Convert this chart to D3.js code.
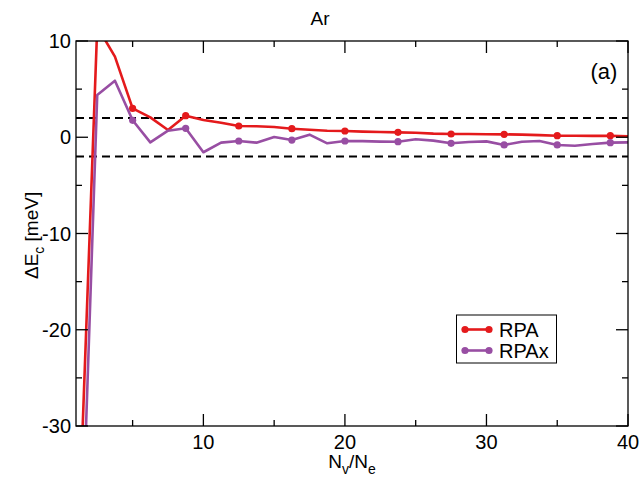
<!DOCTYPE html>
<html>
<head>
<meta charset="utf-8">
<script src="https://cdn.jsdelivr.net/npm/d3@7"></script>
<style>
  body { margin: 0; background: #fff; }
  text { font-family: "Liberation Sans", Arial, sans-serif; fill: #000; }
</style>
</head>
<body>
<script>
const WIDTH = 640, HEIGHT = 481;
const margin = {top: 41, right: 12, bottom: 55, left: 76};

// N_v/N_e grid used for both curves
const ratios = [1.25, 2.5, 3.75, 5, 6.25, 7.5, 8.75, 10, 11.25, 12.5, 13.75, 15, 16.25, 17.5,
    18.75, 20, 21.25, 22.5, 23.75, 25, 26.25, 27.5, 28.75, 30, 31.25, 32.5, 33.75, 35,
    36.25, 37.5, 38.75, 40];
const rpaValues = [-39, 11.5, 8.37, 3.0, 2.07, 0.75, 2.24, 1.79, 1.51, 1.17, 1.14, 1.06, 0.89,
    0.78, 0.68, 0.65, 0.58, 0.55, 0.51, 0.47, 0.38, 0.34, 0.33, 0.31, 0.30, 0.27, 0.22, 0.16,
    0.15, 0.14, 0.16, 0.10];
const rpaxValues = [-50, 4.4, 5.87, 1.76, -0.53, 0.68, 0.93, -1.56, -0.56, -0.39, -0.56, 0.03,
    -0.29, 0.27, -0.63, -0.39, -0.4, -0.45, -0.46, -0.2, -0.35, -0.63, -0.49, -0.43, -0.8,
    -0.46, -0.39, -0.8, -0.88, -0.7, -0.56, -0.53];
// points that carry a symbol
const markerRatios = [5, 8.75, 12.5, 16.25, 20, 23.75, 27.5, 31.25, 35, 38.75];
const thresholds = [2, -2];

const seriesNames = ["RPA", "RPAx"];
const seriesColors = ["#e41a1c", "#984ea3"];
const xTicks = [10, 20, 30, 40];
const xMinor = [5, 15, 25, 35];
const yTicks = [10, 0, -10, -20, -30];
const yMinor = [5, -5, -15, -25];

const plotW = WIDTH - margin.left - margin.right;
const plotH = HEIGHT - margin.top - margin.bottom;

const svg = d3.select("body").append("svg")
    .attr("width", WIDTH).attr("height", HEIGHT);

const x = d3.scaleLinear().domain([1, 40]).range([margin.left, margin.left + plotW]);
const y = d3.scaleLinear().domain([-30, 10]).range([margin.top + plotH, margin.top]);

svg.append("clipPath").attr("id", "plotclip")
    .append("rect")
    .attr("x", margin.left).attr("y", margin.top)
    .attr("width", plotW).attr("height", plotH);

// Dashed threshold lines
svg.selectAll("line.thr")
    .data(thresholds)
    .enter()
    .append("line")
    .attr("class", "thr")
    .attr("x1", x(1)).attr("x2", x(40))
    .attr("y1", d => y(d)).attr("y2", d => y(d))
    .attr("stroke", "#000").attr("stroke-width", 2)
    .attr("stroke-dasharray", "8,5");

// Curves
const series = [rpaValues, rpaxValues];
const lineGen = d3.line().x((d, i) => x(ratios[i])).y(d => y(d));
const plot = svg.append("g").attr("clip-path", "url(#plotclip)");

series.forEach((vals, s) => {
    plot.append("path")
        .datum(vals)
        .attr("d", lineGen)
        .attr("fill", "none")
        .attr("stroke", seriesColors[s])
        .attr("stroke-width", 2.6)
        .attr("stroke-linejoin", "round");
    plot.selectAll("circle.s" + s)
        .data(markerRatios)
        .enter()
        .append("circle")
        .attr("cx", d => x(d))
        .attr("cy", d => y(vals[ratios.indexOf(d)]))
        .attr("r", 3.6)
        .attr("fill", seriesColors[s]);
});

// Frame and ticks on all four sides
svg.append("rect")
    .attr("x", margin.left).attr("y", margin.top)
    .attr("width", plotW).attr("height", plotH)
    .attr("fill", "none").attr("stroke", "#000").attr("stroke-width", 1.3);

const tickG = svg.append("g").attr("stroke", "#000").attr("stroke-width", 1.3);
function xTickMarks(vals, len) {
    vals.forEach(v => {
        tickG.append("line").attr("x1", x(v)).attr("x2", x(v))
            .attr("y1", y(-30)).attr("y2", y(-30) - len);
        tickG.append("line").attr("x1", x(v)).attr("x2", x(v))
            .attr("y1", y(10)).attr("y2", y(10) + len);
    });
}
function yTickMarks(vals, len) {
    vals.forEach(v => {
        tickG.append("line").attr("x1", x(1)).attr("x2", x(1) + len)
            .attr("y1", y(v)).attr("y2", y(v));
        tickG.append("line").attr("x1", x(40)).attr("x2", x(40) - len)
            .attr("y1", y(v)).attr("y2", y(v));
    });
}
xTickMarks(xTicks, 12);
xTickMarks(xMinor, 6);
yTickMarks(yTicks, 12);
yTickMarks(yMinor, 6);

// Tick labels
svg.selectAll("text.xt")
    .data(xTicks)
    .enter()
    .append("text")
    .attr("x", d => x(d)).attr("y", y(-30) + 23)
    .attr("text-anchor", "middle")
    .attr("font-size", "20px")
    .text(d => d);

svg.selectAll("text.yt")
    .data(yTicks)
    .enter()
    .append("text")
    .attr("x", margin.left - 5).attr("y", d => y(d) + 7)
    .attr("text-anchor", "end")
    .attr("font-size", "20px")
    .text(d => d);

// Axis titles
const xl = svg.append("text")
    .attr("x", x(20.5)).attr("y", 468)
    .attr("text-anchor", "middle")
    .attr("font-size", "19px");
xl.append("tspan").text("N");
xl.append("tspan").attr("dy", 6).attr("font-size", "14px").text("v");
xl.append("tspan").attr("dy", -6).text("/N");
xl.append("tspan").attr("dy", 6).attr("font-size", "14px").text("e");

const yl = svg.append("text")
    .attr("transform", "translate(38," + y(-10.2) + ") rotate(-90)")
    .attr("text-anchor", "middle")
    .attr("font-size", "19px");
yl.append("tspan").text("\u0394E");
yl.append("tspan").attr("dy", 6).attr("font-size", "14px").text("c");
yl.append("tspan").attr("dy", -6).text(" [meV]");

// Title and panel tag
svg.append("text")
    .attr("x", 320).attr("y", 25)
    .attr("text-anchor", "middle")
    .attr("font-size", "19px")
    .text("Ar");

svg.append("text")
    .attr("x", 604).attr("y", 79)
    .attr("text-anchor", "middle")
    .attr("font-size", "22px")
    .text("(a)");

// Legend
const legend = svg.append("g");
legend.append("rect")
    .attr("x", 456.5).attr("y", 315)
    .attr("width", 100).attr("height", 48)
    .attr("fill", "#fff").attr("stroke", "#000").attr("stroke-width", 1);

seriesNames.forEach((name, i) => {
    const ly = 329.5 + i * 21;
    legend.append("line")
        .attr("x1", 465).attr("x2", 489)
        .attr("y1", ly).attr("y2", ly)
        .attr("stroke", seriesColors[i]).attr("stroke-width", 2.6);
    [465, 489].forEach(cx => {
        legend.append("circle")
            .attr("cx", cx).attr("cy", ly).attr("r", 3.6)
            .attr("fill", seriesColors[i]);
    });
    legend.append("text")
        .attr("x", 499).attr("y", ly + 7.5)
        .attr("font-size", "20px")
        .text(name);
});
</script>
</body>
</html>
